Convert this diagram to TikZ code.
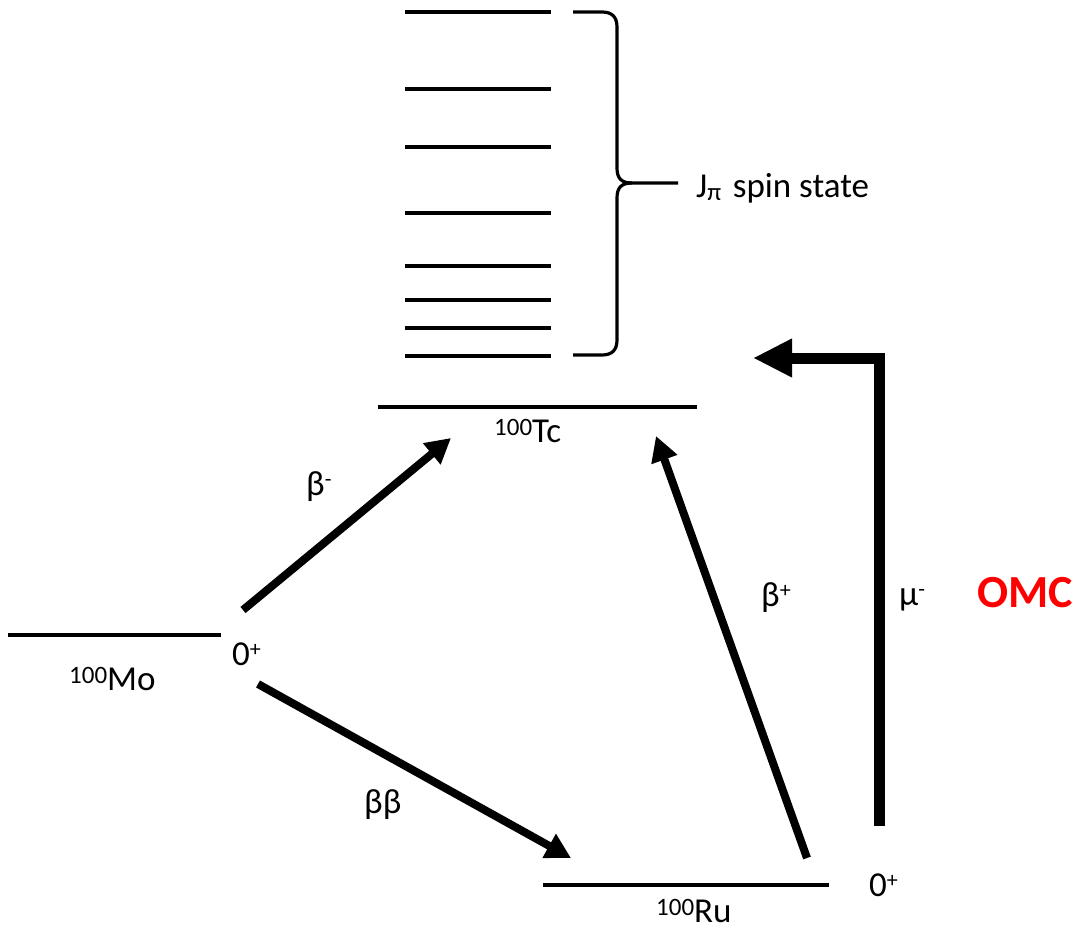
\documentclass[tikz,border=0pt]{standalone}
\usepackage{fontspec}
\setmainfont{Carlito}
\usetikzlibrary{arrows.meta}
\newcommand{\rsup}[3]{\raisebox{#1}{\fontsize{#2}{#2}\selectfont #3}}
\tikzset{
  level/.style={line width=4.5pt},
  statebar/.style={line width=3.5pt},
  bracepath/.style={line width=3.2pt, line join=round},
  decay/.style={line width=8pt, -{Triangle[length=25pt,width=26pt]}},
  capture/.style={line width=11pt, line join=miter, -{Triangle[length=39pt,width=36pt]}},
  lbl/.style={inner sep=0pt, anchor=base west, font=\fontsize{35}{40}\selectfont},
  omc/.style={inner sep=0pt, anchor=base west, font=\fontsize{46}{52}\selectfont\bfseries, text=red}
}
\begin{document}
\begin{tikzpicture}[x=1pt,y=-1pt]
\useasboundingbox (0,0) rectangle (1081,931);
% levels
\coordinate (mo1) at (8,635);   \coordinate (mo2) at (221,635);
\coordinate (tc1) at (378,407); \coordinate (tc2) at (697,407);
\coordinate (ru1) at (543,885); \coordinate (ru2) at (829,885);
\draw[level] (mo1) -- (mo2);
\draw[level] (tc1) -- (tc2);
\draw[level] (ru1) -- (ru2);
% spin states
\foreach \i/\y in {1/12,2/89,3/147,4/213,5/266,6/300,7/328,8/356}{
  \coordinate (sa\i) at (405,\y); \coordinate (sb\i) at (551,\y);
  \draw[statebar] (sa\i) -- (sb\i);
}
% brace
\coordinate (brtop) at (573,12);
\coordinate (brtip) at (678,183);
\coordinate (brbot) at (573,355);
\draw[bracepath] (brtop) -- (602,12) .. controls (612,12) and (617,17) .. (617,27)
  -- (617,168) .. controls (617,178) and (621,183) .. (632,183) -- (brtip);
\draw[bracepath] (632,183) .. controls (621,183) and (617,188) .. (617,198)
  -- (617,340) .. controls (617,350) and (612,355) .. (602,355) -- (brbot);
\node[lbl] (spin) at (696,197) {J\rsup{-3pt}{25}{π}\,\,spin state};
% labels
\node[lbl] (molbl) at (69,690) {\rsup{7pt}{25}{100}Mo};
\node[lbl] (mozero) at (232,665) {0\rsup{9pt}{22}{+}};
\node[lbl] (tclbl) at (494,442) {\rsup{7pt}{25}{100}Tc};
\node[lbl] (rulbl) at (656,922) {\rsup{7pt}{25}{100}Ru};
\node[lbl] (ruzero) at (869,896) {0\rsup{9pt}{22}{+}};
\node[lbl] (bminus) at (306,495) {β\rsup{9pt}{22}{-}};
\node[lbl] (bplus) at (761,606) {β\rsup{9pt}{22}{+}};
\node[lbl] (mu) at (899,605) {μ\rsup{9pt}{22}{-}};
\node[lbl] (bb) at (364,813) {ββ};
\node[omc] (omc) at (977,607) {OMC};
% arrows
\coordinate (bmS) at (243,610); \coordinate (bmE) at (451,438);
\coordinate (bbS) at (258,684); \coordinate (bbE) at (571,858);
\coordinate (bpS) at (807,858); \coordinate (bpE) at (656,436);
\coordinate (muS) at (879,826); \coordinate (muC) at (879,358); \coordinate (muE) at (753,358);
\draw[decay] (bmS) -- (bmE);
\draw[decay] (bbS) -- (bbE);
\draw[decay] (bpS) -- (bpE);
\draw[capture] (muS) -- (muC) -- (muE);
\end{tikzpicture}
\end{document}
